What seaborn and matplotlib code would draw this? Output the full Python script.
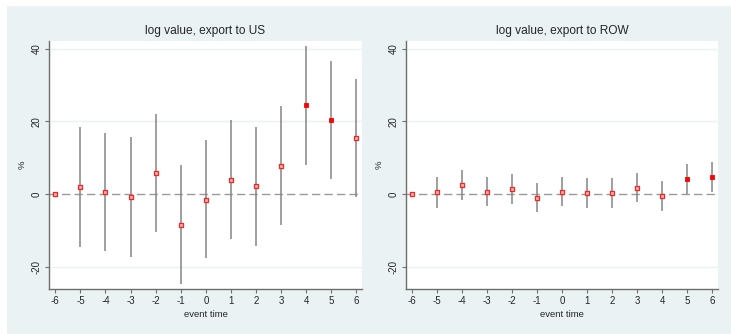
import numpy as np
import pandas as pd
import matplotlib
matplotlib.use("Agg")
import matplotlib.pyplot as plt
import seaborn as sns

# event-study estimates (%)
event_time = [-6, -5, -4, -3, -2, -1, 0, 1, 2, 3, 4, 5, 6]

us_est = [0.0, 2.0, 0.6, -0.8, 5.9, -8.4, -1.5, 4.0, 2.2, 7.8, 24.4, 20.4, 15.4]
us_lo = [np.nan, -14.5, -15.7, -17.2, -10.4, -24.6, -17.7, -12.3, -14.2, -8.4, 8.0, 4.1, -0.9]
us_hi = [np.nan, 18.5, 16.9, 15.7, 22.1, 8.0, 14.8, 20.3, 18.5, 24.2, 40.7, 36.6, 31.6]

row_est = [0.0, 0.5, 2.6, 0.6, 1.5, -1.0, 0.6, 0.3, 0.3, 1.8, -0.5, 4.2, 4.6]
row_lo = [np.nan, -3.8, -1.6, -3.4, -2.6, -5.0, -3.4, -3.8, -3.9, -2.3, -4.7, 0.1, 0.5]
row_hi = [np.nan, 4.6, 6.6, 4.7, 5.6, 3.1, 4.7, 4.4, 4.3, 5.8, 3.7, 8.3, 8.7]

panels = [
    ("log value, export to US", us_est, us_lo, us_hi),
    ("log value, export to ROW", row_est, row_lo, row_hi),
]

sns.set_style("white")
plt.rcParams["font.family"] = ["Liberation Sans", "DejaVu Sans"]
plt.rcParams["axes.unicode_minus"] = False

bg = "#eaf2f3"
fig = plt.figure(figsize=(7.31, 3.34), dpi=100)
fig.patches.append(plt.Rectangle((7 / 731, 0), 1, 1 - 6 / 334, transform=fig.transFigure,
                                 facecolor=bg, edgecolor="none", zorder=-10))

ax_pos = [[49 / 731, 45 / 334, 313 / 731, 248 / 334],
          [406 / 731, 45 / 334, 312 / 731, 248 / 334]]

for pos, (title, est, lo, hi) in zip(ax_pos, panels):
    ax = fig.add_axes(pos)
    df = pd.DataFrame({"t": event_time, "est": est, "lo": lo, "hi": hi})
    df["sig"] = (df["lo"] > 0) | (df["hi"] < 0)

    for y in [-20, 20, 40]:
        ax.axhline(y, color=bg, lw=1, zorder=0)
    ax.axhline(0, color="#9a9a9a", lw=1, ls=(0, (6, 3)), zorder=1)

    ci = df.dropna()
    ax.vlines(ci["t"], ci["lo"], ci["hi"], color="#858585", lw=1.1, zorder=2)

    sns.scatterplot(data=df[~df["sig"]], x="t", y="est", marker="s", s=7,
                    facecolor="#ffb8b8", edgecolor="#ff2020", linewidth=0.9,
                    ax=ax, zorder=3)
    sns.scatterplot(data=df[df["sig"]], x="t", y="est", marker="s", s=9,
                    color="#ff0000", edgecolor="#ff0000", linewidth=0.6,
                    ax=ax, zorder=3)

    ax.set_xlim(-6.25, 6.22)
    ax.set_ylim(-26.1, 42.1)
    ax.set_xticks(event_time)
    ax.set_yticks([-20, 0, 20, 40])
    ax.set_yticklabels(["-20", "0", "20", "40"], rotation=90, va="center")
    ax.tick_params(axis="both", labelsize=7, length=3, width=0.8,
                   color="#707070", pad=2, direction="out")
    ax.tick_params(axis="x", bottom=True)
    ax.tick_params(axis="y", left=True)
    for side in ["top", "right"]:
        ax.spines[side].set_visible(False)
    for side in ["left", "bottom"]:
        ax.spines[side].set_color("#6e6e6e")
        ax.spines[side].set_linewidth(1)
    ax.set_title(title, fontsize=8.6, pad=5)
    ax.set_xlabel("event time", fontsize=6.8, labelpad=3)
    ax.set_ylabel("%", fontsize=6.8, labelpad=4)

fig.savefig("out.png", dpi=100)
